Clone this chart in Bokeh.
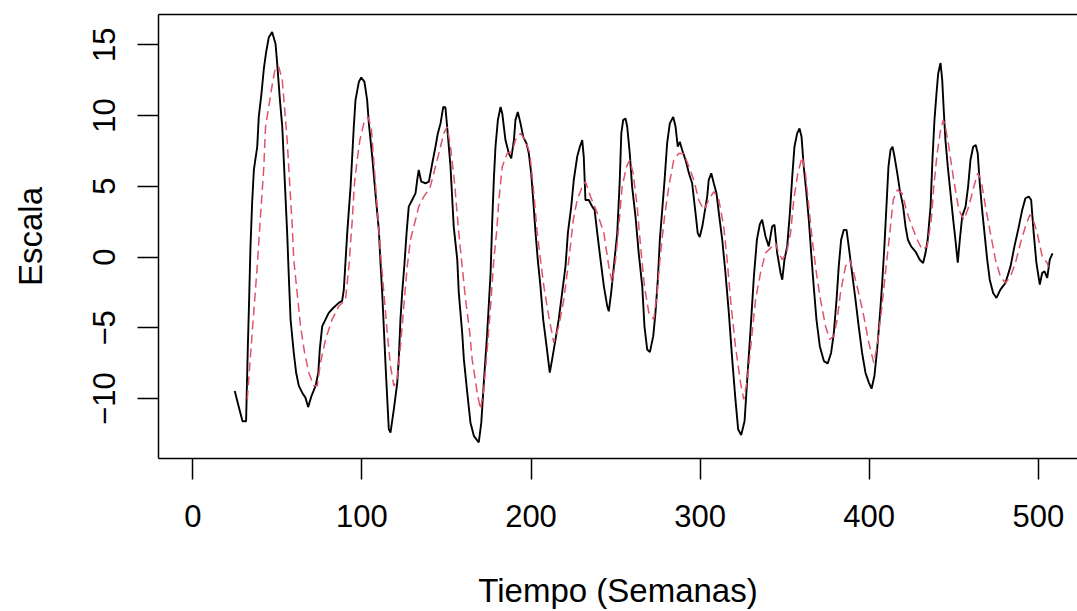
from bokeh.plotting import figure
from bokeh.models import FixedTicker, LinearAxis, Range1d
from bokeh.embed import file_html
from bokeh.resources import INLINE

# ---- data (weeks, scale value) ----
obs_x = [24.8, 27.0, 29.4, 31.5, 32.5, 33.3, 34.1, 35.1, 36.1, 38.1, 39.0, 40.6, 42.0, 43.4, 44.9,
         46.9, 48.9, 49.9, 51.5, 52.9, 53.8, 54.8, 55.8, 56.8, 57.8, 59.7, 61.1, 62.7, 64.7, 66.6,
         68.2, 70.2, 72.6, 74.2, 75.1, 76.5, 78.5, 80.4, 83.0, 86.3, 88.3, 89.3, 91.3, 93.3, 95.2,
         96.2, 98.2, 99.6, 101.5, 103.1, 104.1, 106.1, 108.0, 110.0, 111.0, 112.0, 113.0, 114.0, 115.0,
         115.9, 116.9, 118.9, 120.9, 121.8, 122.8, 123.8, 125.2, 126.4, 127.7, 129.7, 131.7, 132.7, 133.6,
         135.1, 137.6, 139.6, 141.6, 143.5, 144.9, 146.5, 148.1, 149.4, 150.4, 152.4, 154.3, 156.4, 157.3,
         159.3, 160.3, 162.3, 164.2, 166.2, 169.1, 170.6, 172.1, 174.1, 176.1, 177.1, 178.0, 179.0, 180.4,
         182.0, 183.0, 184.9, 186.9, 188.3, 189.9, 190.8, 192.2, 193.8, 195.4, 197.3, 198.7, 200.1, 201.3,
         202.7, 204.0, 205.6, 207.2, 209.2, 211.1, 212.5, 214.5, 216.4, 218.4, 220.4, 221.8, 223.8, 225.3,
         227.3, 228.9, 230.3, 231.2, 232.2, 234.2, 236.2, 237.6, 239.2, 241.1, 243.1, 245.1, 246.0, 247.4,
         249.0, 251.0, 252.5, 253.4, 254.5, 255.9, 256.9, 258.4, 259.8, 261.8, 263.7, 265.8, 267.1, 268.7,
         270.3, 272.3, 273.6, 275.0, 276.2, 277.6, 279.0, 280.5, 282.1, 284.1, 285.5, 286.8, 288.0, 289.4,
         291.4, 293.4, 295.3, 297.3, 298.6, 299.8, 301.3, 302.6, 304.2, 305.1, 306.6, 308.1, 309.7, 311.1,
         313.1, 315.0, 317.0, 319.0, 320.9, 322.5, 324.3, 326.3, 327.9, 329.8, 331.8, 333.6, 335.3, 336.7,
         338.7, 340.6, 342.6, 344.0, 345.6, 347.6, 348.6, 349.9, 351.5, 353.1, 354.5, 355.8, 357.4, 358.8,
         360.0, 361.3, 362.9, 364.3, 365.7, 367.2, 368.8, 370.8, 373.2, 375.5, 377.5, 379.1, 380.7, 382.0,
         383.4, 385.0, 386.6, 387.9, 389.9, 391.9, 393.8, 395.8, 397.8, 399.8, 401.4, 403.1, 404.7, 406.3,
         407.7, 409.0, 410.2, 411.4, 412.6, 413.8, 415.0, 416.6, 418.1, 420.1, 421.5, 422.9, 424.8, 427.4,
         429.9, 431.9, 433.3, 434.6, 436.3, 437.4, 438.6, 439.8, 440.8, 442.2, 443.2, 444.1, 445.1, 446.5,
         448.1, 449.7, 451.0, 452.4, 453.6, 455.0, 457.0, 458.5, 459.9, 461.5, 463.0, 464.2, 465.4, 466.8,
         468.2, 469.8, 471.3, 473.3, 475.3, 477.6, 480.6, 483.6, 485.9, 488.5, 490.5, 492.4, 494.4, 495.8,
         497.3, 498.9, 500.9, 502.3, 503.7, 505.3, 506.8, 508.4]
obs_y = [-9.46, -10.5, -11.6, -11.6, -6.5, -3.0, 0.75, 3.9, 6.15, 7.8, 9.9, 11.55, 13.3, 14.5, 15.5,
         15.9, 15.07, 13.66, 11.1, 9.2, 6.85, 4.27, 1.69, -1.48, -4.4, -6.76, -8.17, -9.1, -9.58, -9.93,
         -10.6, -9.8, -9.1, -8.17, -6.5, -4.9, -4.4, -3.94, -3.6, -3.24, -3.1, -2.3, 1.69, 4.97, 9.2,
         11.08, 12.37, 12.68, 12.37, 11.08, 9.44, 7.08, 4.5, 1.92, -0.42, -2.54, -5.12, -7.7, -10.05,
         -12.16, -12.4, -10.75, -8.87, -7.23, -4.4, -2.54, -0.42, 1.69, 3.56, 4.03, 4.5, 5.44, 6.15,
         5.32, 5.21, 5.32, 6.62, 7.79, 8.73, 9.44, 10.6, 10.56, 9.2, 6.38, 2.15, -0.2, -2.54,
         -5.35, -7.23, -9.58, -11.7, -12.63, -13.1, -11.7, -8.87, -5.35, -1.13, 2.63, 5.44, 7.79, 9.67,
         10.6, 10.14, 8.26, 7.32, 6.97, 8.26, 9.67, 10.25, 9.44, 8.49, 8.03, 7.32, 5.92, 4.03,
         1.69, -0.19, -2.07, -4.4, -6.3, -8.17, -7.23, -5.82, -4.4, -2.54, -0.66, 1.69, 3.56, 5.44,
         7.08, 7.79, 8.26, 7.08, 4.03, 4.03, 3.56, 3.33, 1.69, -0.19, -2.07, -3.48, -3.83, -2.54,
         -0.66, 1.69, 5.44, 8.73, 9.67, 9.79, 9.2, 7.32, 4.97, 2.86, 0.28, -2.07, -4.89, -6.53,
         -6.72, -5.59, -3.94, -1.6, 1.22, 3.33, 5.44, 8.03, 9.44, 9.9, 9.2, 7.79, 8.14, 7.56,
         6.85, 5.92, 5.21, 3.1, 1.69, 1.41, 2.15, 3.1, 4.27, 5.44, 5.92, 5.21, 4.5, 3.1,
         1.22, -1.13, -3.94, -7.23, -10.05, -12.16, -12.58, -11.6, -8.6, -5.2, -1.4, 1.22, 2.3, 2.63,
         1.45, 0.75, 2.15, 2.27, 0.28, -1.13, -1.6, -0.19, 0.75, 3.1, 5.68, 7.79, 8.73, 9.08,
         8.49, 6.38, 4.5, 2.63, 0.28, -2.07, -4.4, -6.3, -7.35, -7.51, -6.76, -5.35, -3.01, -0.66,
         1.22, 1.92, 1.92, 0.75, -1.13, -3.01, -4.89, -6.76, -8.17, -8.87, -9.3, -8.4, -6.53, -4.18,
         -1.83, 0.75, 3.56, 6.38, 7.56, 7.79, 7.08, 5.92, 4.74, 3.56, 2.15, 1.22, 0.75, 0.39,
         -0.19, -0.42, 0.28, 1.22, 3.56, 6.85, 9.67, 11.55, 12.96, 13.7, 12.49, 10.37, 8.26, 6.38,
         4.5, 2.63, 1.22, -0.4, 1.22, 2.86, 3.56, 4.97, 6.85, 7.79, 7.91, 7.32, 5.21, 3.33,
         1.69, -0.19, -1.6, -2.54, -2.89, -2.3, -1.83, -0.66, 0.75, 2.15, 3.33, 4.15, 4.27, 4.03,
         1.69, -0.42, -1.95, -1.13, -1.01, -1.48, -0.19, 0.25]

smooth_x = [32.2, 35.1, 38.1, 40.0, 42.0, 43.0, 44.9, 46.4, 48.9, 50.9, 52.9, 54.2, 55.8, 57.4, 58.8,
            59.7, 61.7, 63.7, 66.1, 68.6, 71.6, 73.6, 75.5, 78.5, 82.4, 86.3, 90.3, 92.3, 94.3, 95.6,
            97.2, 98.8, 101.1, 103.5, 105.5, 107.0, 109.0, 111.0, 113.0, 115.0, 116.9, 118.9, 120.9, 122.8,
            124.8, 126.8, 128.7, 131.7, 133.6, 136.6, 140.2, 142.5, 145.5, 148.4, 150.4, 152.4, 154.8, 157.3,
            159.3, 161.3, 163.8, 165.2, 168.2, 170.1, 172.1, 174.1, 176.1, 178.0, 179.6, 181.0, 183.0, 185.9,
            188.9, 190.8, 193.8, 196.7, 199.3, 201.3, 203.7, 205.6, 207.6, 210.5, 213.5, 216.4, 219.4, 222.4,
            225.0, 227.3, 230.3, 232.2, 235.2, 239.2, 243.1, 246.0, 248.0, 250.0, 251.9, 253.9, 256.5, 258.4,
            260.4, 262.8, 264.8, 267.1, 269.7, 272.6, 274.6, 276.6, 279.0, 281.5, 284.4, 287.4, 290.4, 293.4,
            296.3, 299.2, 302.2, 305.1, 308.1, 311.1, 314.0, 316.0, 318.0, 320.9, 323.9, 325.8, 327.9, 330.8,
            332.8, 335.7, 338.7, 341.6, 344.6, 346.5, 348.6, 351.1, 353.5, 355.4, 357.8, 360.4, 362.3, 364.3,
            366.3, 368.8, 371.2, 374.2, 376.7, 379.1, 381.1, 383.0, 386.0, 388.5, 390.9, 393.8, 396.8, 399.8,
            402.7, 404.7, 407.1, 409.6, 412.2, 414.2, 416.6, 419.5, 422.5, 425.4, 428.4, 431.4, 434.3, 436.7,
            438.2, 440.2, 442.2, 443.8, 445.1, 447.1, 450.0, 453.0, 456.0, 458.9, 461.9, 464.2, 466.2, 468.8,
            471.7, 474.7, 477.6, 480.6, 483.6, 486.5, 489.5, 492.4, 495.0, 497.0, 499.4, 502.3, 505.3, 506.0]
smooth_y = [-10.05, -5.35, -0.66, 2.86, 6.38, 9.2, 10.6, 11.78, 13.42, 13.42, 12.49, 10.6, 8.26, 4.97, 2.15,
            -0.19, -2.54, -4.89, -6.76, -8.17, -9.1, -9.1, -7.46, -5.82, -4.4, -3.48, -3.01, -0.66, 2.63, 5.21,
            6.85, 8.26, 9.44, 9.9, 9.2, 6.85, 3.56, 0.28, -2.54, -5.35, -7.7, -9.1, -8.64, -6.3,
            -3.48, -0.66, 1.22, 2.63, 3.56, 4.27, 4.86, 5.92, 7.32, 8.73, 9.2, 7.79, 5.21, 1.69,
            -0.66, -3.01, -5.35, -7.23, -9.58, -10.75, -9.34, -6.53, -3.48, -0.19, 1.69, 4.03, 6.38, 7.32,
            7.44, 8.26, 8.73, 8.26, 7.32, 4.97, 1.69, -0.19, -2.07, -4.18, -6.06, -4.89, -3.01, -0.19,
            2.63, 4.03, 4.97, 5.32, 4.27, 3.1, 1.69, -0.66, -1.83, -0.19, 2.15, 4.97, 6.38, 6.85,
            5.92, 3.56, 0.75, -2.07, -3.94, -4.4, -2.54, 0.28, 2.86, 4.97, 6.85, 7.32, 7.32, 6.38,
            5.44, 4.03, 3.33, 4.03, 4.62, 4.03, 2.15, -0.19, -3.01, -6.3, -8.87, -10.05, -8.7, -5.35,
            -3.01, -1.13, 0.28, 0.63, 0.99, 0.28, -0.19, 0.28, 1.69, 4.03, 5.92, 7.08, 5.92, 3.56,
            1.22, -1.13, -3.01, -4.89, -5.82, -5.59, -4.4, -2.54, -0.66, -0.19, -1.13, -2.54, -4.18, -6.06,
            -7.46, -6.3, -3.94, -1.13, 1.69, 4.03, 4.74, 4.5, 3.1, 2.15, 1.22, 0.51, 0.75, 2.63,
            4.97, 7.32, 8.96, 9.67, 9.2, 7.79, 5.44, 3.33, 2.63, 3.56, 4.97, 5.92, 5.44, 3.56,
            1.69, -0.19, -1.37, -1.83, -1.37, -0.42, 0.99, 2.15, 2.98, 2.63, 1.69, 0.04, -0.42, -0.7]

x_ticks = [0, 100, 200, 300, 400, 500]
y_ticks = [-10, -5, 0, 5, 10, 15]
x_title = "Tiempo (Semanas)"
y_title = "Escala"

FONT = "Liberation Sans"

p = figure(width=1077, height=611, output_backend="svg", toolbar_location=None,
           x_range=Range1d(-20.3, 523.2), y_range=Range1d(-14.23, 17.13),
           min_border_left=158, min_border_right=0, min_border_top=14, min_border_bottom=152)
p.outline_line_color = None
p.grid.visible = False
p.background_fill_color = "white"
p.border_fill_color = "white"

p.line(obs_x, obs_y, line_color="black", line_width=1.9)
p.line(smooth_x, smooth_y, line_color="#DF536B", line_width=1.5, line_dash="9 5")

for ax in (p.xaxis[0], p.yaxis[0]):
    ax.axis_line_color = "black"
    ax.axis_line_width = 1.5
    ax.major_tick_line_color = "black"
    ax.major_tick_line_width = 1.5
    ax.major_tick_in = 0
    ax.major_tick_out = 21
    ax.minor_tick_line_color = None
    ax.major_label_text_font = FONT
    ax.major_label_text_font_size = "31px"
    ax.major_label_text_color = "black"
    ax.axis_label_text_font = FONT
    ax.axis_label_text_font_size = "33px"
    ax.axis_label_text_font_style = "normal"
    ax.axis_label_text_color = "black"

p.xaxis[0].ticker = FixedTicker(ticks=x_ticks)
p.yaxis[0].ticker = FixedTicker(ticks=y_ticks)
p.xaxis[0].axis_label = x_title
p.yaxis[0].axis_label = y_title
p.xaxis[0].major_label_standoff = 25
p.xaxis[0].axis_label_standoff = 42
p.yaxis[0].major_label_orientation = "vertical"
p.yaxis[0].major_label_standoff = 22
p.yaxis[0].axis_label_standoff = 42

top = LinearAxis(ticker=FixedTicker(ticks=[]), axis_line_color="black", axis_line_width=1.5,
                 major_tick_line_color=None, minor_tick_line_color=None,
                 major_tick_out=0, major_tick_in=0, major_label_standoff=0,
                 axis_label_standoff=0, major_label_text_font_size="0px")
p.add_layout(top, "above")

open("out.html", "w").write(file_html(p, INLINE))
